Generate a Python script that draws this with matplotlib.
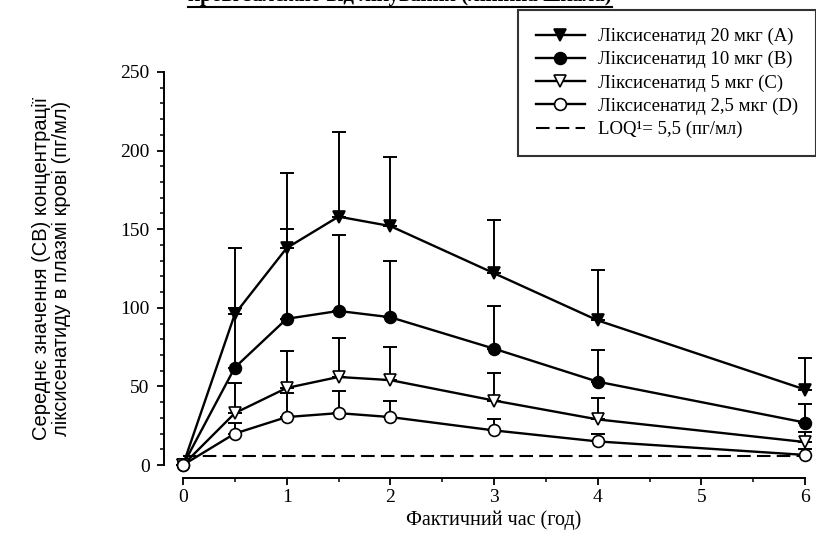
import numpy as np
import matplotlib
matplotlib.use("Agg")
import matplotlib.pyplot as plt
from matplotlib.lines import Line2D

# time points (h)
times = [0, 0.5, 1, 1.5, 2, 3, 4, 6]

# mean concentrations (pg/ml)
mean_a = [0, 96, 138, 158, 152, 122, 92, 48]
mean_b = [0, 62, 93, 98, 94, 74, 53, 27]
mean_c = [0, 33, 49, 56, 54, 41, 29, 14.6]
mean_d = [0, 20, 30.5, 33, 30.5, 22, 15, 6.4]

# upper SD
sd_a = [0, 42, 48, 54, 44, 34, 32, 20]
sd_b = [0, 38, 57, 48, 36, 27, 20, 12]
sd_c = [0, 19, 23.5, 25, 21, 17.5, 13.6, 6.4]
sd_d = [0, 7, 15.5, 14, 10.5, 7, 5, 3.6]

loq = 5.5

labels = [
    "Ліксисенатид 20 мкг (A)",
    "Ліксисенатид 10 мкг (B)",
    "Ліксисенатид 5 мкг (C)",
    "Ліксисенатид 2,5 мкг (D)",
]
loq_label = "LOQ¹= 5,5 (пг/мл)"

title = "крові залежно від лікування (лінійна шкала)"
xlabel = "Фактичний час (год)"
ylabel = "Середнє значення (СВ) концентрації\nліксисенатиду в плазмі крові (пг/мл)"

serif = ["Liberation Serif", "DejaVu Serif"]
sans = ["Liberation Sans", "DejaVu Sans"]

styles = [
    ("v", "black"),
    ("o", "black"),
    ("v", "white"),
    ("o", "white"),
]

fig = plt.figure(figsize=(8.16, 5.47), dpi=100)
ax = fig.add_axes([183 / 816, 1 - 465 / 547, 622 / 816, 393 / 547])

handles = []
for means, sds, label, (marker, face) in zip(
    [mean_a, mean_b, mean_c, mean_d],
    [sd_a, sd_b, sd_c, sd_d],
    labels,
    styles,
):
    lower = np.zeros(len(sds))
    ax.errorbar(
        times, means,
        yerr=[lower, sds],
        fmt="none",
        ecolor="black",
        elinewidth=1.4,
        capsize=5,
        capthick=1.4,
        clip_on=False,
        zorder=2,
    )
    line, = ax.plot(
        times, means,
        color="black",
        linewidth=1.7,
        marker=marker,
        markersize=8.5,
        markerfacecolor=face,
        markeredgecolor="black",
        markeredgewidth=1.2,
        label=label,
        clip_on=False,
        zorder=3,
    )
    handles.append(line)

ax.hlines(
    loq, times[0], times[-1],
    colors="black",
    linewidth=1.5,
    linestyles=(0, (6.5, 3)),
    zorder=1,
)
handles.append(Line2D([], [], color="black", linewidth=1.5,
                      linestyle=(0, (6.5, 3))))

ax.set_xlim(0, 6)
ax.set_ylim(0, 250)
ax.set_xticks(range(0, 7))
ax.set_xticks(np.arange(0.5, 6, 1), minor=True)
ax.set_yticks(range(0, 251, 50))
ax.set_yticks(range(0, 251, 10), minor=True)

for side in ["top", "right"]:
    ax.spines[side].set_visible(False)
ax.spines["left"].set_position(("outward", 14))
ax.spines["bottom"].set_position(("outward", 9))
ax.spines["left"].set_linewidth(1.4)
ax.spines["bottom"].set_linewidth(1.4)

ax.tick_params(axis="both", which="major", direction="out", length=5,
               width=1.3, labelsize=14)
ax.tick_params(axis="both", which="minor", direction="out", length=3,
               width=1.1)
ax.tick_params(axis="y", pad=5)
for lab in ax.get_xticklabels() + ax.get_yticklabels():
    lab.set_fontfamily(serif)

ax.set_xlabel(xlabel, fontsize=14.5, family=serif)
ax.xaxis.set_label_coords(0.5, -0.115)
ax.set_ylabel(ylabel, fontsize=14.5, family=sans, linespacing=1.05)
ax.yaxis.set_label_coords(-0.18, 0.5)

leg = fig.legend(
    handles,
    labels + [loq_label],
    loc="upper left",
    bbox_to_anchor=(518 / 816, 1 - 10 / 547),
    borderaxespad=0,
    frameon=True,
    fancybox=False,
    edgecolor="black",
    handlelength=2.6,
    handletextpad=0.7,
    labelspacing=0.32,
    borderpad=0.95,
    prop={"family": serif, "size": 13.5},
)
leg.get_frame().set_linewidth(1.5)

t = fig.text(0.49, 1 - 1 / 547, title, ha="center", va="baseline",
             fontsize=15, fontweight="bold", family=serif)
fig.canvas.draw()
bb = t.get_window_extent().transformed(fig.transFigure.inverted())
fig.add_artist(Line2D([bb.x0, bb.x1], [1 - 7 / 547, 1 - 7 / 547],
                      color="black", linewidth=1.5,
                      transform=fig.transFigure))

fig.savefig("out.png", dpi=100)
